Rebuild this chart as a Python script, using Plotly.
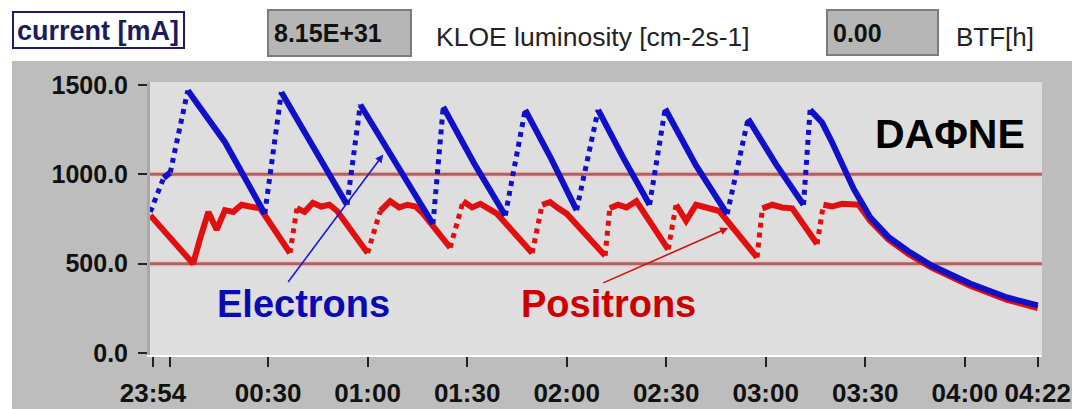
import plotly.graph_objects as go

# ---- data (minutes after 00:00, current in mA) ----
ele_t = [-5.5, -1.5, 0.5, 5.8, 17, 29, 34, 44, 53.8, 57.8, 68, 79.7, 82.8, 92, 101.5,
         107.5, 115, 123, 129.5, 137, 145, 149.7, 159, 168.4, 174.7, 183, 191.4, 193.4,
         197, 200, 203, 206.5, 211.5, 217, 223, 230, 241.6, 252.8, 262]
ele_v = [790, 980, 1010, 1470, 1180, 780, 1460, 1145, 830, 1390, 1075, 722, 1378, 1065, 770,
         1361, 1100, 800, 1361, 1095, 830, 1367, 1050, 778, 1311, 1060, 830, 1361,
         1290, 1180, 1060, 920, 760, 650, 570, 490, 389, 311, 267]

pos_t = [-5.5, 0, 7.4, 9.5, 12, 14.5, 17, 19.5, 22, 24.5, 27.6,
         36.6, 38.7, 41, 43.5, 46, 48.5, 50.8,
         60.0, 63.8, 66.8, 69.5, 72, 74.5, 76.7,
         84.9, 88.8, 91.5, 94, 96.5, 99,
         109.6, 112.6, 115, 117.5, 120,
         131.6, 133, 135.5, 138, 141,
         150.6, 153, 156, 159, 162.5, 166,
         177.4, 179, 182, 185, 188,
         195.5, 197.4, 200, 203, 205.4,
         208, 211.5, 217, 223, 230, 241.6, 252.8, 262]
pos_v = [770, 660, 500, 640, 790, 690, 800, 790, 830, 820, 810,
         560, 810, 790, 840, 820, 830, 795,
         560, 795, 850, 815, 830, 820, 780,
         590, 850, 815, 835, 810, 780,
         560, 830, 845, 810, 780,
         545, 810, 830, 815, 850,
         580, 830, 740, 830, 815, 795,
         535, 810, 830, 815, 810,
         610, 830, 820, 835, 835,
         830, 740, 635, 555, 478, 376, 298, 252]

x_tick_vals = [-4.7, 0.4, 30, 60, 90, 120, 150, 180, 210, 240, 262]
x_tick_text = ["23:54", "", "00:30", "01:00", "01:30", "02:00", "02:30", "03:00",
               "03:30", "04:00", "04:22"]
y_tick_vals = [0, 500, 1000, 1500]
y_tick_text = ["0.0", "500.0", "1000.0", "1500.0"]
ref_levels = [500, 1000]

header_current = "current [mA]"
header_lumi_val = "8.15E+31"
header_lumi_lbl = "KLOE luminosity [cm-2s-1]"
header_btf_val = "0.00"
header_btf_lbl = "BTF[h]"

FONT = "Liberation Sans, Arial, sans-serif"
OFF = 8                      # page body margin
W, H = 1072, 401             # figure fills the window from the body margin on
L, R, T, B = 142, 38, 74, 54


def split_runs(t, v, thr):
    """Split series into solid runs and dotted (injection) runs."""
    sx, sy, dx, dy = [], [], [], []
    for i in range(len(t) - 1):
        inj = (v[i + 1] - v[i]) > thr
        tx, ty = (dx, dy) if inj else (sx, sy)
        if tx and tx[-1] == t[i]:
            tx.append(t[i + 1]); ty.append(v[i + 1])
        else:
            if tx:
                tx.append(None); ty.append(None)
            tx.extend([t[i], t[i + 1]]); ty.extend([v[i], v[i + 1]])
    return sx, sy, dx, dy


def px(xs):
    return (xs - OFF - L) / (W - L - R)


def py(ys):
    return (H - B - (ys - OFF)) / (H - T - B)


fig = go.Figure()

BLUE = "#1010c8"
RED = "#e01010"

for (t, v, col, thr) in [(pos_t, pos_v, RED, 150), (ele_t, ele_v, BLUE, 100)]:
    sx, sy, dx, dy = split_runs(t, v, thr)
    fig.add_trace(go.Scatter(x=sx, y=sy, mode="lines",
                             line=dict(color=col, width=6), hoverinfo="skip"))
    fig.add_trace(go.Scatter(x=dx, y=dy, mode="lines",
                             line=dict(color=col, width=5, dash="5px,5px"), hoverinfo="skip"))

shapes = []
shapes.append(dict(type="rect", xref="paper", yref="paper", x0=px(0), x1=px(1090), y0=py(0), y1=py(61),
                   fillcolor="white", line=dict(width=0), layer="below"))
shapes.append(dict(type="rect", xref="paper", yref="paper", x0=px(0), x1=px(12), y0=py(0), y1=py(420),
                   fillcolor="white", line=dict(width=0), layer="below"))
shapes.append(dict(type="rect", xref="paper", yref="paper", x0=px(13), x1=px(184), y0=py(12), y1=py(48),
                   fillcolor="white", line=dict(color="#1e1e64", width=2), layer="below"))
shapes.append(dict(type="rect", xref="paper", yref="paper", x0=px(268), x1=px(411), y0=py(10), y1=py(56),
                   fillcolor="#b6b6b6", line=dict(color="#7c7c7c", width=2), layer="below"))
shapes.append(dict(type="rect", xref="paper", yref="paper", x0=px(827), x1=px(938), y0=py(10), y1=py(55),
                   fillcolor="#b6b6b6", line=dict(color="#7c7c7c", width=2), layer="below"))
for lv in ref_levels:
    shapes.append(dict(type="line", xref="paper", yref="y", x0=0, x1=1, y0=lv, y1=lv,
                       line=dict(color="#f2cccc", width=7), layer="below"))
    shapes.append(dict(type="line", xref="paper", yref="y", x0=0, x1=1, y0=lv, y1=lv,
                       line=dict(color="#a86464", width=3), layer="below"))

ann = []
ann.append(dict(xref="paper", yref="paper", x=px(98), y=py(31), text=header_current, showarrow=False,
                font=dict(family=FONT, size=27, color="#1c1c5c", weight="bold"), xanchor="center", yanchor="middle"))
ann.append(dict(xref="paper", yref="paper", x=px(272), y=py(33), text=header_lumi_val, showarrow=False,
                font=dict(family=FONT, size=25, color="#111", weight="bold"), xanchor="left", yanchor="middle"))
ann.append(dict(xref="paper", yref="paper", x=px(434), y=py(37), text=header_lumi_lbl, showarrow=False,
                font=dict(family=FONT, size=26.5, color="#222"), xanchor="left", yanchor="middle"))
ann.append(dict(xref="paper", yref="paper", x=px(831), y=py(33), text=header_btf_val, showarrow=False,
                font=dict(family=FONT, size=25, color="#111", weight="bold"), xanchor="left", yanchor="middle"))
ann.append(dict(xref="paper", yref="paper", x=px(954), y=py(37), text=header_btf_lbl, showarrow=False,
                font=dict(family=FONT, size=26, color="#222"), xanchor="left", yanchor="middle"))

ann.append(dict(xref="x", yref="y", x=235.5, y=1228, text="DAΦNE", showarrow=False,
                font=dict(family=FONT, size=41, color="black", weight="bold")))
ann.append(dict(xref="x", yref="y", x=40.8, y=272, text="Electrons", showarrow=False,
                font=dict(family=FONT, size=38, color="#0a0ab4", weight="bold")))
ann.append(dict(xref="x", yref="y", x=132.5, y=272, text="Positrons", showarrow=False,
                font=dict(family=FONT, size=38, color="#cc0000", weight="bold")))
ann.append(dict(xref="x", yref="y", axref="x", ayref="y", x=64.7, y=1111, ax=35.7, ay=389, text="",
                showarrow=True, arrowhead=2, arrowsize=1, arrowwidth=1.6, arrowcolor="#1a1ad0"))
ann.append(dict(xref="x", yref="y", axref="x", ayref="y", x=168.7, y=700, ax=130.6, ay=389, text="",
                showarrow=True, arrowhead=2, arrowsize=1, arrowwidth=1.6, arrowcolor="#d01010"))

fig.update_layout(
    width=W, height=H, autosize=False,
    margin=dict(l=L, r=R, t=T, b=B, pad=0, autoexpand=False),
    paper_bgcolor="#bdbdbd", plot_bgcolor="#dedede",
    showlegend=False, shapes=shapes, annotations=ann,
    font=dict(family=FONT, color="black"),
)
fig.update_xaxes(range=[-5.6, 263.3], tickmode="array", tickvals=x_tick_vals, ticktext=x_tick_text,
                 ticks="outside", ticklen=10, tickwidth=1.5, tickcolor="#222",
                 tickfont=dict(family=FONT, size=26, color="#111", weight="bold"),
                 ticklabelstandoff=4, showgrid=False, zeroline=False, automargin=False,
                 showline=True, linecolor="white", linewidth=2)
fig.update_yaxes(range=[-11, 1517], tickmode="array", tickvals=y_tick_vals, ticktext=y_tick_text,
                 ticks="outside", ticklen=9, tickwidth=1.5, tickcolor="#222",
                 tickfont=dict(family=FONT, size=25, color="#111", weight="bold"),
                 ticklabelstandoff=5, showgrid=False, zeroline=False, automargin=False,
                 showline=True, linecolor="#a8a8a8", linewidth=3)

fig.write_html("out.html")
